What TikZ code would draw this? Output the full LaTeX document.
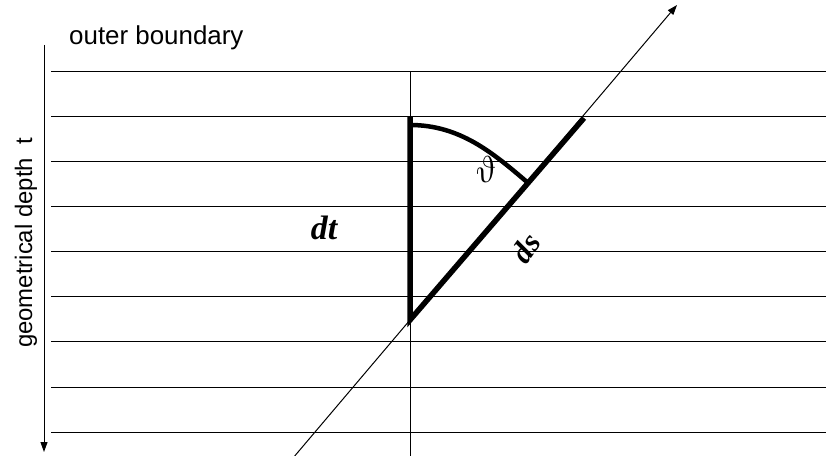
\documentclass[tikz,border=0pt]{standalone}
\usepackage{fontspec}
\setmainfont{Liberation Serif}
\newfontfamily\arialf{Liberation Sans}
\usetikzlibrary{arrows.meta}
\begin{document}
\begin{tikzpicture}[x=1bp,y=-1bp,
  thinline/.style={line width=1bp,black},
  thickline/.style={line width=5.5bp,black},
  arr/.style={-{Triangle[length=10bp,width=7bp]}},
  sanslabel/.style={font=\arialf\fontsize{24}{28}\selectfont,inner sep=0pt},
  mathlabel/.style={font=\bfseries\itshape\fontsize{34}{38}\selectfont,inner sep=0pt}]
\useasboundingbox (0,0) rectangle (826,456);
% horizontal layers
\foreach \y in {72,117,162,207,252,297,342,387,432}
  \draw[thinline] (51,\y) -- (826,\y);
% depth axis
\coordinate (axtop) at (44,45);
\coordinate (axbot) at (44,452);
\draw[thinline,arr] (axtop) -- (axbot);
% vertical normal
\coordinate (vtop) at (410,72);
\coordinate (vbot) at (410,456);
\draw[thinline] (vtop) -- (vbot);
% ray
\coordinate (A) at (410,320);
\coordinate (raystart) at (294.7,456);
\coordinate (raytip) at (677,5);
\draw[thinline,arr] (raystart) -- (raytip);
% thick triangle legs
\coordinate (B) at (410,117);
\coordinate (C) at (584,118);
\draw[thickline] (B) -- (A) -- (C);
% angle arc
\coordinate (arcS) at (410,125);
\coordinate (arcE) at (527,182);
\draw[line width=4.5bp] (arcS) .. controls (460,125) and (493,153) .. (arcE);
% labels
\node[sanslabel,font=\arialf\fontsize{26}{30}\selectfont,anchor=base west] (ob) at (69,45) {outer boundary};
\node[sanslabel,anchor=base,rotate=90] (gd) at (32,243) {geometrical depth\ \ t};
\node[mathlabel,anchor=base] (dt) at (324,240) {dt};
\node[mathlabel,font=\bfseries\itshape\fontsize{31}{34}\selectfont,rotate=55] (ds) at (526,248) {ds};
\node[inner sep=0pt,rotate=15] (th) at (486,170) {\scalebox{3.6}{$\vartheta$}};
\end{tikzpicture}
\end{document}
